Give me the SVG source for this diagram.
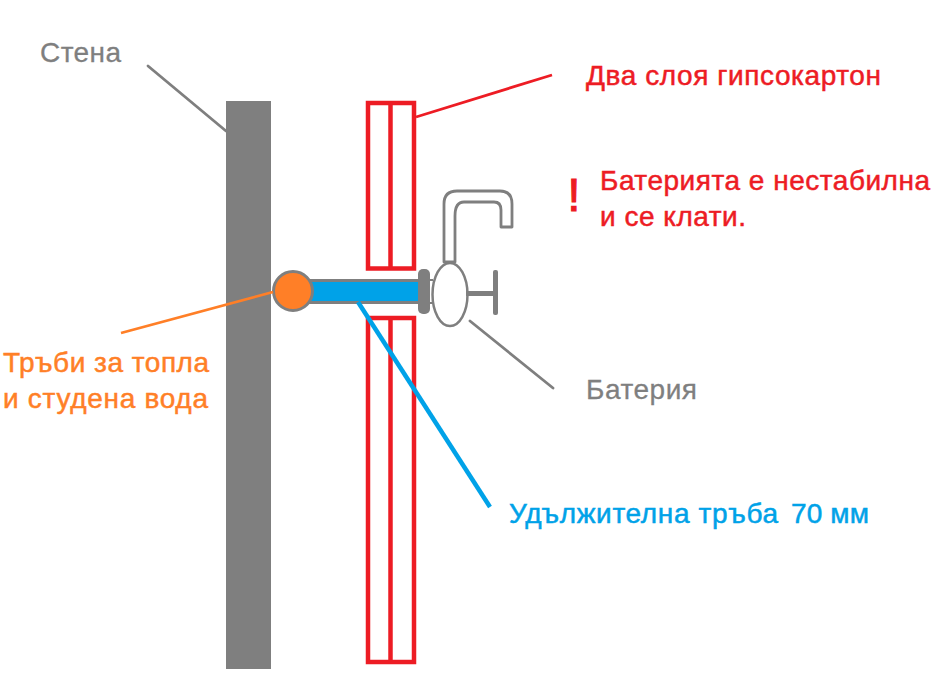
<svg xmlns="http://www.w3.org/2000/svg" width="941" height="682" viewBox="0 0 941 682">
<style>
text{font-family:"Liberation Sans",Arial,sans-serif;font-size:28px;font-weight:400;stroke-width:.5}
.gt{fill:#7f7f7f;stroke:#7f7f7f;stroke-width:.3}.rt{fill:#ed1c24;stroke:#ed1c24}.ot{fill:#ff7f27;stroke:#ff7f27}.bt{fill:#00a2e8;stroke:#00a2e8}
.board{fill:none;stroke:#ed1c24;stroke-width:4.500}
.g{fill:none;stroke:#7f7f7f;stroke-width:2.800;stroke-linecap:round}
.gs{fill:none;stroke:#7f7f7f;stroke-width:2.800;stroke-linejoin:round}
</style>
<rect width="941" height="682" fill="#fff"/>
<g id="wall"><rect x="226" y="101" width="45" height="568" fill="#7f7f7f"/></g>
<g id="drywall-top"><rect x="368" y="103" width="46" height="165.500" class="board"/><line x1="390.500" y1="101" x2="390.500" y2="268" class="board"/></g>
<g id="drywall-bottom"><rect x="368" y="318" width="46" height="344" class="board"/><line x1="390.500" y1="318" x2="390.500" y2="662" class="board"/></g>
<g id="extension-pipe"><rect x="305" y="280.500" width="116" height="22" fill="#00a2e8" stroke="#7f7f7f" stroke-width="3"/></g>
<g id="hot-cold-pipe"><circle cx="293" cy="291" r="19.500" fill="#ff7f27" stroke="#7f7f7f" stroke-width="3"/></g>
<g id="faucet">
<rect x="418" y="269" width="12" height="45" rx="5" fill="#7f7f7f"/>
<path d="M430 280H433M430 303H433" fill="none" stroke="#7f7f7f" stroke-width="2"/>
<ellipse cx="450" cy="294.500" rx="17.500" ry="31.500" fill="#fff" stroke="#7f7f7f" stroke-width="2.500"/>
<path d="M444 262V204Q444 191 457 191H500Q512 191 512 204V227H501V210Q501 202 494 202H464Q455 202 455 216V262Z" class="gs" fill="#fff"/>
<path d="M466 293.500H495" fill="none" stroke="#7f7f7f" stroke-width="5"/>
<rect x="493" y="270" width="5" height="45" rx="2" fill="#7f7f7f"/>
</g>
<g id="connectors">
<line x1="148" y1="66" x2="226" y2="131" class="g"/>
<line x1="416" y1="117" x2="552" y2="75" fill="none" stroke="#ed1c24" stroke-width="2.800"/>
<line x1="121" y1="333" x2="273" y2="292" fill="none" stroke="#ff7f27" stroke-width="2.800"/>
<line x1="358" y1="302" x2="490" y2="507" fill="none" stroke="#00a2e8" stroke-width="4.500"/>
<line x1="470" y1="321" x2="553" y2="388" class="g"/>
</g>
<g id="labels">
<text x="40" y="62" class="gt" textLength="81">Стена</text>
<text x="586" y="85" class="rt" textLength="295">Два слоя гипсокартон</text>
<text x="567.500" y="211" style="font-size:46px;stroke-width:1.200" class="rt">!</text>
<text x="600" y="190" class="rt" textLength="330">Батерията е нестабилна</text>
<text x="600" y="226" class="rt" textLength="146">и се клати.</text>
<text x="3" y="372" class="ot" textLength="206">Тръби за топла</text>
<text x="3" y="408" class="ot" textLength="205">и студена вода</text>
<text x="586" y="399" class="gt" textLength="111">Батерия</text>
<text x="509" y="523" class="bt" textLength="269">Удължителна тръба</text>
<text x="791" y="523" class="bt" textLength="78">70 мм</text>
</g>
</svg>
